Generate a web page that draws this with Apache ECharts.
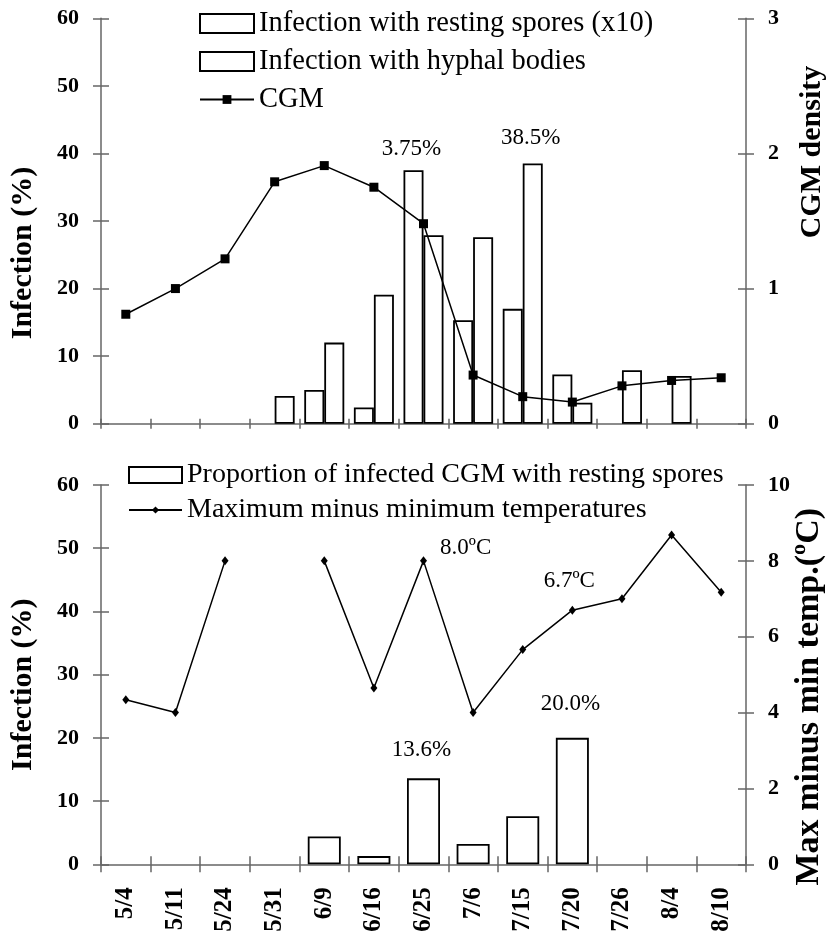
<!DOCTYPE html>
<html>
<head>
<meta charset="utf-8">
<script src="https://cdn.jsdelivr.net/npm/echarts@6/dist/echarts.min.js"></script>
<style>
html,body{margin:0;padding:0;background:#fff;overflow:hidden;}
#chart{width:826px;height:934px;}
</style>
</head>
<body>
<div id="chart"></div>
<script>
// ---- data ----
const categories = ['5/4','5/11','5/24','5/31','6/9','6/16','6/25','7/6','7/15','7/20','7/26','8/4','8/10'];
const restingSporesX10 = [null,null,null,null,5.0,2.4,37.5,15.3,17.0,7.3,null,null,null];
const hyphalBodies = [null,null,null,4.1,12.0,19.1,27.9,27.6,38.5,3.1,7.9,7.05,null];
const cgmDensity = [0.81,1.00,1.22,1.79,1.91,1.75,1.48,0.36,0.20,0.16,0.28,0.32,0.34];
const restingProportion = [null,null,null,null,4.4,1.3,13.6,3.2,7.6,20.0,null,null,null];
const tempRange = [4.34,4.0,8.0,null,8.0,4.65,8.0,4.0,5.66,6.7,7.0,8.68,7.17];
// annotated points (category indices)
const restingLabelIdx = [6];
const hyphalLabelIdx = [8];
const proportionLabelIdx = [6, 9];
const tempLabelIdx = [6, 9];

const FONT = 'Liberation Serif, Times New Roman, serif';
const AXIS_COLOR = '#666';
const S_REST = 'Infection with resting spores (x10)';
const S_HYPH = 'Infection with hyphal bodies';
const S_CGM = 'CGM';
const S_PROP = 'Proportion of infected CGM with resting spores';
const S_TEMP = 'Maximum minus minimum temperatures';

function build(values, labelIdx, labelCfgFn) {
  return values.map((v, i) => {
    if (v == null) return '-';
    if (labelIdx.includes(i)) return { value: v, label: Object.assign({ show: true }, labelCfgFn(i)) };
    return v;
  });
}
const annot = { fontFamily: FONT, fontSize: 23, color: '#000' };

function catAxis(grid, showLabels, inside) {
  return {
    type: 'category', gridIndex: grid, data: categories, position: 'bottom',
    boundaryGap: true,
    axisLine: { show: !inside, lineStyle: { color: AXIS_COLOR, width: 1.5 } },
    axisTick: { show: true, inside: inside, length: grid === 0 ? 5 : 8, alignWithLabel: false,
                lineStyle: { color: AXIS_COLOR, width: 1.5 } },
    axisLabel: showLabels ? { show: true, rotate: 90, margin: 23, fontFamily: FONT, fontWeight: 'bold',
                fontSize: 25, color: '#000', interval: 0 } : { show: false },
    splitLine: { show: false }
  };
}
function valAxis(grid, pos, min, max, interval, inside, name, nameGap, namePadding, nameSize) {
  const a = {
    type: 'value', gridIndex: grid, position: pos, min: min, max: max, interval: interval, offset: 0,
    axisLine: { show: !inside, onZero: false, lineStyle: { color: AXIS_COLOR, width: 1.5 } },
    axisTick: { show: true, inside: inside, length: 8, lineStyle: { color: AXIS_COLOR, width: 1.5 } },
    axisLabel: inside ? { show: false } : { show: true, margin: 22, fontFamily: FONT, fontWeight: 'bold', fontSize: 22, color: '#000' },
    splitLine: { show: false }
  };
  if (name && !inside) {
    a.name = name; a.nameLocation = 'middle'; a.nameRotate = 90; a.nameGap = nameGap;
    a.nameMoveOverlap = false;
    a.nameTextStyle = { fontFamily: FONT, fontWeight: 'bold', fontSize: nameSize || 30, color: '#000', padding: namePadding };
  }
  return a;
}
const legendText = { fontFamily: FONT, fontSize: 28.5, color: '#000' };

const chart = echarts.init(document.getElementById('chart'), null, { renderer: 'canvas', width: 826, height: 934 });
const option = {
  animation: false,
  backgroundColor: '#fff',
  grid: [
    { left: 101, right: 80, top: 18.3, height: 405.4, containLabel: false, outerBoundsMode: 'none' },
    { left: 101, right: 80, top: 485, height: 379.3, containLabel: false, outerBoundsMode: 'none' }
  ],
  legend: [
    { orient: 'vertical', left: 194, top: 4, itemWidth: 54, itemHeight: 19, itemGap: 9, selectedMode: false,
      data: [{ name: S_REST, icon: 'rect' }, { name: S_HYPH, icon: 'rect' }], textStyle: legendText },
    { orient: 'vertical', left: 194, top: 80, itemWidth: 54, itemHeight: 11, selectedMode: false,
      data: [S_CGM], textStyle: legendText },
    { orient: 'vertical', left: 123, top: 456, itemWidth: 53, itemHeight: 16, selectedMode: false,
      data: [{ name: S_PROP, icon: 'rect' }], textStyle: Object.assign({}, legendText, { fontSize: 28 }) },
    { orient: 'vertical', left: 123, top: 491, itemWidth: 53, itemHeight: 9, selectedMode: false,
      data: [S_TEMP], textStyle: Object.assign({}, legendText, { fontSize: 28 }) }
  ],
  xAxis: [ catAxis(0, false, false), catAxis(0, false, true), catAxis(1, true, false), catAxis(1, false, true) ],
  yAxis: [
    valAxis(0, 'left', 0, 60, 10, false, 'Infection (%)', 63, [0, 64, 0, 0]),
    valAxis(0, 'right', 0, 3, 1, false, 'CGM density', 51, [0, 0, 0, 138]),
    valAxis(0, 'left', 0, 60, 10, true),
    valAxis(0, 'right', 0, 3, 1, true),
    valAxis(1, 'left', 0, 60, 10, false, 'Infection (%)', 63, [0, 20, 0, 0]),
    valAxis(1, 'right', 0, 10, 2, false, 'Max minus min temp.(ºC)', 46, [0, 44, 0, 0], 34),
    valAxis(1, 'left', 0, 60, 10, true),
    valAxis(1, 'right', 0, 10, 2, true)
  ],
  series: [
    { name: S_REST, type: 'bar', xAxisIndex: 0, yAxisIndex: 0,
      barWidth: 20, barGap: '0%',
      itemStyle: { color: '#fff', borderColor: '#000', borderWidth: 1.8 },
      data: build(restingSporesX10, restingLabelIdx, () => Object.assign({ position: 'top', distance: 10, offset: [-2, 0],
        formatter: p => (p.value / 10) + '%' }, annot)) },
    { name: S_HYPH, type: 'bar', xAxisIndex: 0, yAxisIndex: 0,
      barWidth: 20, barGap: '0%',
      itemStyle: { color: '#fff', borderColor: '#000', borderWidth: 1.8 },
      data: build(hyphalBodies, hyphalLabelIdx, () => Object.assign({ position: 'top', distance: 14, offset: [-2, 0],
        formatter: p => p.value.toFixed(1) + '%' }, annot)) },
    { name: S_CGM, type: 'line', xAxisIndex: 0, yAxisIndex: 1, z: 5,
      symbol: 'rect', symbolSize: 9, itemStyle: { color: '#000' }, lineStyle: { color: '#000', width: 1.5 },
      data: cgmDensity },
    { name: S_PROP, type: 'bar', xAxisIndex: 2, yAxisIndex: 4,
      barWidth: 33,
      itemStyle: { color: '#fff', borderColor: '#000', borderWidth: 1.8 },
      data: build(restingProportion, proportionLabelIdx, (i) => Object.assign({ position: 'top', distance: i === 6 ? 17 : 22,
        offset: [-2, 0], formatter: p => p.value.toFixed(1) + '%' }, annot)) },
    { name: S_TEMP, type: 'line', xAxisIndex: 2, yAxisIndex: 5, z: 5,
      symbol: 'diamond', symbolSize: [7, 9], connectNulls: false,
      itemStyle: { color: '#000' }, lineStyle: { color: '#000', width: 1.5 },
      data: build(tempRange, tempLabelIdx, (i) => Object.assign(i === 6
        ? { position: 'right', distance: 13, offset: [0, -13] }
        : { position: 'top', distance: 13, offset: [-3, 0] },
        { formatter: p => p.value.toFixed(1) + 'ºC' }, annot)) }
  ]
};
chart.setOption(option);
</script>
</body>
</html>
